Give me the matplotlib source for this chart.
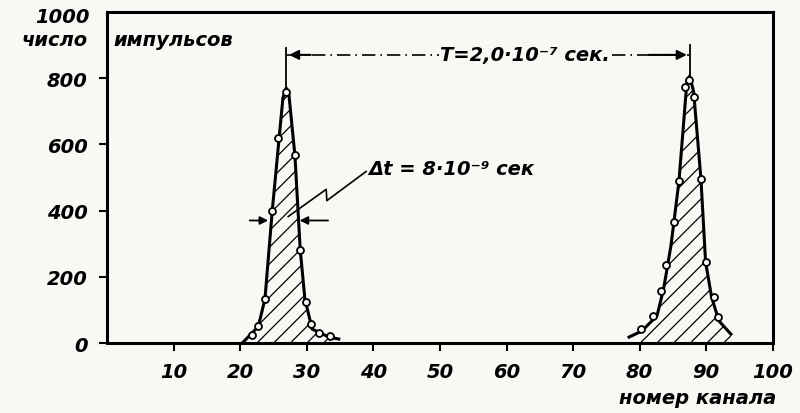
import matplotlib
matplotlib.use('Agg')
import matplotlib.pyplot as plt
import numpy as np

# drawn curves (channel number, counts)
peak1_ch = [20.3, 22.7, 23.7, 24.8, 26.4, 26.9, 27.3, 28.2, 29.0, 29.7, 30.8, 33.3, 34.8]
peak1_n = [0, 50, 133, 400, 740, 770, 750, 567, 282, 133, 42, 18, 12]
peak2_ch = [78.4, 80.3, 82.6, 83.6, 84.7, 85.9, 87.1, 87.5, 88.1, 89.2, 89.9, 90.8, 91.9, 93.7]
peak2_n = [18, 36, 82, 164, 294, 488, 790, 806, 760, 497, 245, 139, 67, 27]

# measured points
pts1_ch = [26.9, 25.7, 28.2, 24.8, 29.0, 23.7, 29.9, 22.7, 21.8, 30.6, 31.8, 33.5]
pts1_n = [757, 618, 567, 400, 282, 133, 124, 52, 24, 58, 30, 21]
pts2_ch = [87.4, 86.8, 88.2, 85.9, 89.2, 85.1, 83.9, 89.9, 83.2, 82.0, 91.1, 91.7, 80.2]
pts2_n = [794, 773, 742, 488, 494, 364, 236, 245, 158, 82, 139, 79, 42]

xticks = [10, 20, 30, 40, 50, 60, 70, 80, 90, 100]
yticks = [0, 200, 400, 600, 800, 1000]

bg = '#f8f8f5'
fs = 14
txt = dict(style='italic', fontsize=fs, fontweight='bold')
plt.rcParams['hatch.linewidth'] = 0.9

fig = plt.figure(figsize=(8, 4.14), dpi=100, facecolor=bg)
ax = fig.add_axes([0.134, 0.169, 0.832, 0.80])
ax.set_facecolor(bg)

for ch, n in [(peak1_ch, peak1_n), (peak2_ch, peak2_n)]:
    ax.fill_between(ch, 0, n, facecolor='none', edgecolor='black', hatch='//', linewidth=0)
    ax.plot(ch, n, color='black', lw=2.2)
for ch, n in [(pts1_ch, pts1_n), (pts2_ch, pts2_n)]:
    ax.plot(ch, n, 'o', ms=5, mfc=bg, mec='black', mew=1.3)

ax.set_xlim(0, 100)
ax.set_ylim(0, 1000)
ax.set_xticks(xticks)
ax.set_yticks(yticks[:-1])
ax.set_xticklabels([str(t) for t in xticks], **txt)
ax.set_yticklabels([str(t) for t in yticks[:-1]], **txt)
ax.tick_params(direction='out', length=6, width=1.5, pad=8)
for s in ax.spines.values():
    s.set_linewidth(2.2)

# y axis caption
ax.text(-0.027, 985, '1000', ha='right', va='center', transform=ax.get_yaxis_transform(), **txt)
ax.text(-0.03, 915, 'число', ha='right', va='center', transform=ax.get_yaxis_transform(), **txt)
ax.text(1, 915, 'импульсов', ha='left', va='center', **txt)
ax.text(100.5, -165, 'номер канала', ha='right', va='center', clip_on=False, **txt)

# T dimension line
yT = 870
ax.plot([26.9, 26.9], [770, 890], color='black', lw=1.3)
ax.plot([87.5, 87.5], [806, 900], color='black', lw=1.3)
ax.plot([27, 87.4], [yT, yT], color='black', lw=1.2, ls=(0, (8, 3, 1, 3)))
ax.annotate('', xy=(26.9, yT), xytext=(31, yT),
            arrowprops=dict(arrowstyle='-|>', color='black', lw=1.5, mutation_scale=14))
ax.annotate('', xy=(87.5, yT), xytext=(81, yT),
            arrowprops=dict(arrowstyle='-|>', color='black', lw=1.5, mutation_scale=14))
ax.text(50, yT, 'T=2,0·10⁻⁷ сек.', ha='left', va='center',
        bbox=dict(facecolor=bg, edgecolor='none', pad=1), **txt)

# width arrows and delta t
yW = 370
ax.annotate('', xy=(24.6, yW), xytext=(21.0, yW),
            arrowprops=dict(arrowstyle='-|>', color='black', lw=1.3, mutation_scale=12))
ax.annotate('', xy=(28.5, yW), xytext=(33.6, yW),
            arrowprops=dict(arrowstyle='-|>', color='black', lw=1.3, mutation_scale=12))
ax.plot([27.2, 32.9, 33.0, 38.9], [382, 464, 430, 518], color='black', lw=1.2)
ax.text(39.3, 527, 'Δt = 8·10⁻⁹ сек', ha='left', va='center', **txt)

fig.savefig('out.png', dpi=100, facecolor=bg)
